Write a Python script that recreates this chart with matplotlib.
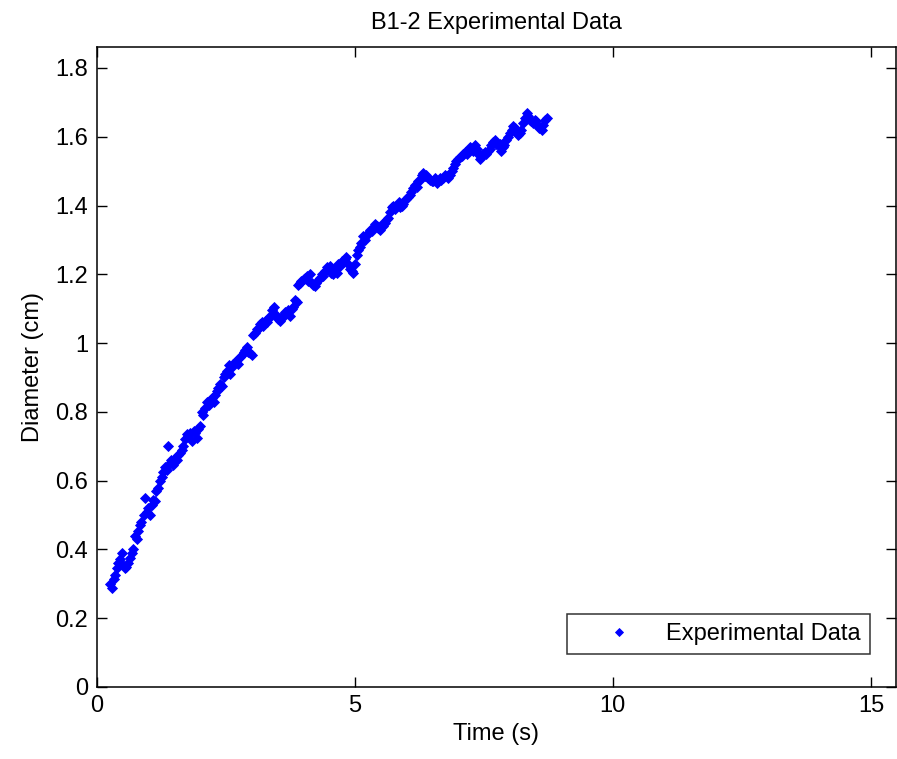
import matplotlib
matplotlib.use("Agg")
import matplotlib.pyplot as plt

plt.rcParams['font.family'] = ['Liberation Sans', 'DejaVu Sans']

time_s = [
    0.26, 0.30, 0.33, 0.36, 0.40, 0.42, 0.46, 0.49, 0.52, 0.55, 0.58, 0.61, 0.64, 0.68, 0.71, 0.74, 0.78, 0.81, 0.84, 0.87, 0.91, 0.94, 0.97, 1.00,
    1.04, 1.07, 1.10, 1.13, 1.16, 1.19, 1.23, 1.26, 1.29, 1.32, 1.36, 1.38, 1.42, 1.45, 1.48, 1.52, 1.55, 1.58, 1.62, 1.65, 1.68, 1.72, 1.75, 1.78, 1.81, 1.85, 1.88, 1.91, 1.94, 1.97,
    2.01, 2.04, 2.07, 2.10, 2.14, 2.17, 2.20, 2.23, 2.27, 2.30, 2.33, 2.36, 2.39, 2.43, 2.46, 2.49, 2.52, 2.56, 2.59, 2.62, 2.65, 2.68, 2.72, 2.75, 2.78, 2.81, 2.85, 2.88, 2.91, 2.94, 2.97, 3.01,
    3.04, 3.07, 3.10, 3.14, 3.17, 3.20, 3.23, 3.27, 3.30, 3.33, 3.36, 3.39, 3.43, 3.46, 3.49, 3.52, 3.55, 3.59, 3.62, 3.65, 3.68, 3.71, 3.75, 3.78, 3.81, 3.84, 3.88, 3.91, 3.94, 3.97,
    4.01, 4.04, 4.07, 4.10, 4.13, 4.17, 4.20, 4.23, 4.26, 4.30, 4.33, 4.36, 4.39, 4.43, 4.46, 4.49, 4.52, 4.55, 4.58, 4.62, 4.65, 4.68, 4.71, 4.75, 4.78, 4.81, 4.84, 4.88, 4.91, 4.94, 4.97,
    5.00, 5.04, 5.07, 5.10, 5.13, 5.16, 5.20, 5.23, 5.26, 5.30, 5.33, 5.36, 5.39, 5.43, 5.46, 5.49, 5.52, 5.55, 5.59, 5.62, 5.65, 5.68, 5.72, 5.75, 5.78, 5.81, 5.85, 5.88, 5.91, 5.94, 5.97,
    6.00, 6.04, 6.07, 6.10, 6.13, 6.17, 6.20, 6.23, 6.26, 6.30, 6.33, 6.36, 6.39, 6.43, 6.46, 6.49, 6.52, 6.55, 6.59, 6.62, 6.65, 6.68, 6.72, 6.75, 6.78, 6.81, 6.84, 6.88, 6.91, 6.94, 6.97,
    7.00, 7.04, 7.07, 7.10, 7.13, 7.17, 7.20, 7.23, 7.26, 7.30, 7.33, 7.36, 7.39, 7.42, 7.46, 7.49, 7.52, 7.55, 7.59, 7.62, 7.65, 7.68, 7.71, 7.74, 7.78, 7.81, 7.84, 7.87, 7.90, 7.94, 7.97,
    8.00, 8.04, 8.07, 8.10, 8.13, 8.17, 8.20, 8.23, 8.26, 8.30, 8.33, 8.36, 8.39, 8.42, 8.46, 8.49, 8.52, 8.55, 8.58, 8.62, 8.65, 8.68, 8.72,
]

diameter_cm = [
    0.300, 0.287, 0.315, 0.326, 0.345, 0.360, 0.372, 0.390, 0.355, 0.345, 0.350, 0.360, 0.375, 0.390, 0.400, 0.440, 0.430, 0.455, 0.470, 0.480, 0.500, 0.550, 0.510, 0.520,
    0.500, 0.530, 0.545, 0.540, 0.570, 0.580, 0.600, 0.610, 0.625, 0.640, 0.630, 0.700, 0.650, 0.660, 0.645, 0.665, 0.660, 0.675, 0.680, 0.690, 0.700, 0.720, 0.735, 0.730, 0.740, 0.715, 0.745, 0.740, 0.725, 0.750,
    0.760, 0.800, 0.790, 0.810, 0.830, 0.820, 0.835, 0.840, 0.830, 0.850, 0.860, 0.870, 0.880, 0.875, 0.900, 0.910, 0.920, 0.936, 0.910, 0.930, 0.940, 0.945, 0.950, 0.940, 0.960, 0.965, 0.975, 0.980, 0.990, 0.975, 0.970, 0.965,
    1.025, 1.030, 1.040, 1.045, 1.055, 1.060, 1.050, 1.065, 1.060, 1.070, 1.080, 1.096, 1.105, 1.085, 1.075, 1.070, 1.065, 1.080, 1.075, 1.090, 1.087, 1.095, 1.080, 1.100, 1.105, 1.125, 1.120, 1.170, 1.175, 1.180,
    1.185, 1.190, 1.195, 1.180, 1.200, 1.175, 1.170, 1.165, 1.175, 1.185, 1.190, 1.200, 1.195, 1.210, 1.220, 1.215, 1.225, 1.205, 1.200, 1.215, 1.205, 1.230, 1.225, 1.240, 1.235, 1.245, 1.250, 1.230, 1.215, 1.210, 1.205,
    1.230, 1.255, 1.270, 1.280, 1.290, 1.310, 1.300, 1.315, 1.320, 1.330, 1.325, 1.335, 1.345, 1.340, 1.335, 1.330, 1.345, 1.340, 1.350, 1.360, 1.365, 1.380, 1.395, 1.400, 1.390, 1.400, 1.410, 1.395, 1.400, 1.405, 1.415,
    1.420, 1.425, 1.430, 1.440, 1.450, 1.460, 1.455, 1.470, 1.475, 1.490, 1.495, 1.485, 1.490, 1.480, 1.475, 1.470, 1.470, 1.480, 1.465, 1.470, 1.480, 1.475, 1.480, 1.490, 1.485, 1.480, 1.490, 1.500, 1.510, 1.520, 1.530,
    1.535, 1.540, 1.545, 1.550, 1.555, 1.550, 1.560, 1.570, 1.565, 1.560, 1.575, 1.565, 1.550, 1.535, 1.545, 1.550, 1.555, 1.550, 1.560, 1.565, 1.575, 1.585, 1.590, 1.580, 1.575, 1.580, 1.560, 1.570, 1.575, 1.590, 1.600,
    1.610, 1.620, 1.630, 1.625, 1.615, 1.605, 1.610, 1.620, 1.640, 1.655, 1.670, 1.660, 1.650, 1.645, 1.640, 1.650, 1.645, 1.630, 1.625, 1.620, 1.635, 1.650, 1.655,
]

x_ticks = [0, 5, 10, 15]
x_tick_labels = ["0", "5", "10", "15"]
y_ticks = [0, 0.2, 0.4, 0.6, 0.8, 1.0, 1.2, 1.4, 1.6, 1.8]
y_tick_labels = ["0", "0.2", "0.4", "0.6", "0.8", "1", "1.2", "1.4", "1.6", "1.8"]

title = "B1-2 Experimental Data"
x_label = "Time (s)"
y_label = "Diameter (cm)"
legend_label = "Experimental Data"

fig = plt.figure(figsize=(8.97, 7.59), dpi=100)
ax = fig.add_axes([0.1076, 0.0949, 0.891, 0.8436])

ax.plot(time_s, diameter_cm, linestyle='none', marker='D', markersize=4.8,
        color=(0, 0, 1), markeredgewidth=0.6, label=legend_label)

ax.set_xlim(0, 15.48)
ax.set_ylim(0, 1.862)
ax.set_xticks(x_ticks)
ax.set_xticklabels(x_tick_labels)
ax.set_yticks(y_ticks)
ax.set_yticklabels(y_tick_labels)

fs = 17
ax.tick_params(direction='in', length=7, width=1.0, top=True, right=True,
               labelsize=fs, colors='black', pad=6)
for sp in ax.spines.values():
    sp.set_linewidth(1.1)
    sp.set_color('black')

ax.set_title(title, fontsize=fs, pad=13)
ax.set_xlabel(x_label, fontsize=fs, labelpad=4)
ax.set_ylabel(y_label, fontsize=fs, labelpad=8)

leg = ax.legend(loc='lower right', bbox_to_anchor=(0.9675, 0.0515), fontsize=fs,
                frameon=True, fancybox=False, edgecolor='black', handlelength=3.6,
                handletextpad=0.2, borderpad=0.38, borderaxespad=0.0,
                markerscale=0.85)
leg.get_frame().set_linewidth(1.1)

fig.savefig("out.png", dpi=100)
